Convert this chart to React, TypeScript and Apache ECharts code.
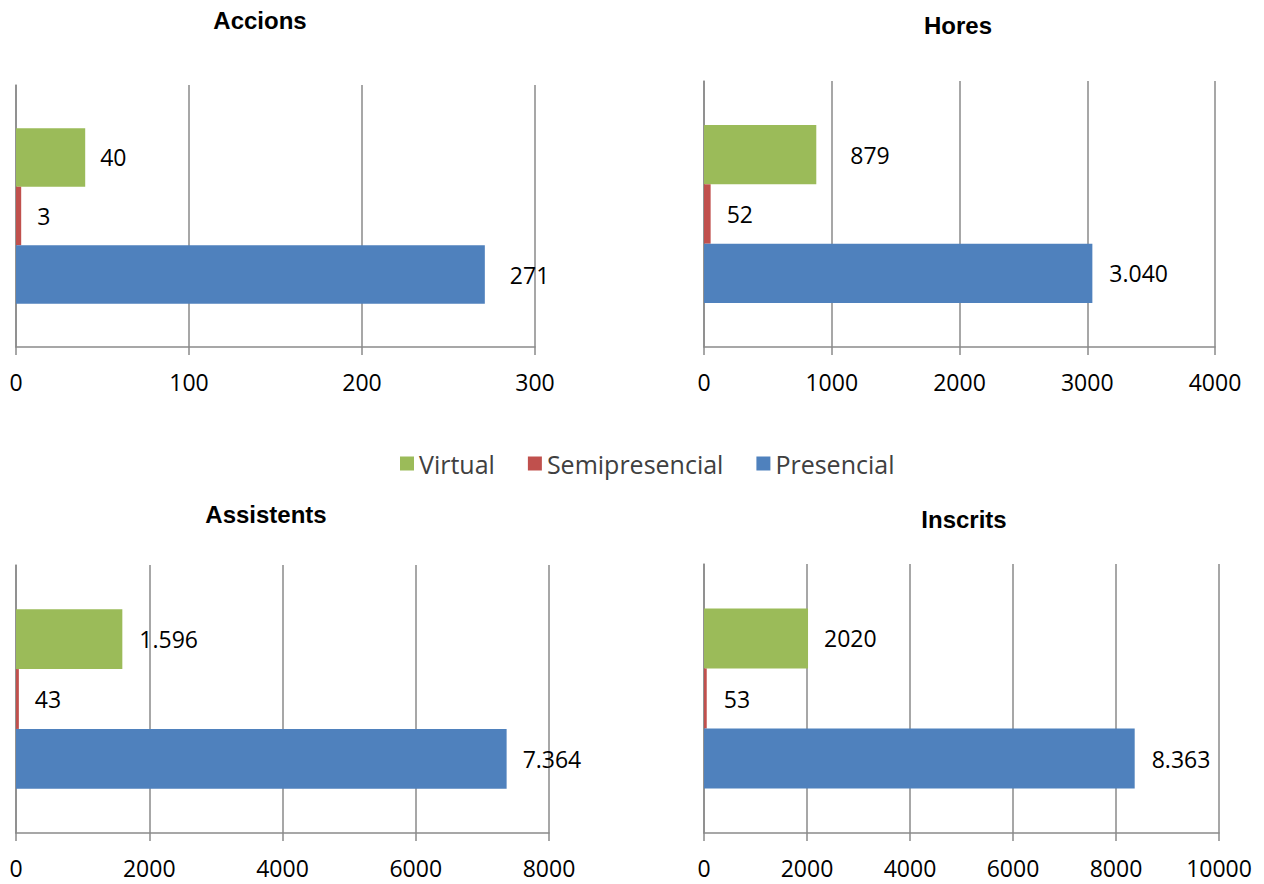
import React, { useEffect, useRef } from "react";
import * as echarts from "echarts";

// ---- data ----
const panels = ["Accions", "Hores", "Assistents", "Inscrits"];
const seriesNames = ["Virtual", "Semipresencial", "Presencial"];
const legendOrder = ["Virtual", "Semipresencial", "Presencial"];
const virtual = [40, 879, 1596, 2020];
const semipresencial = [3, 52, 43, 53];
const presencial = [271, 3040, 7364, 8363];
const virtualLabels = ["40", "879", "1.596", "2020"];
const semipresencialLabels = ["3", "52", "43", "53"];
const presencialLabels = ["271", "3.040", "7.364", "8.363"];
const axisMax = [300, 4000, 8000, 10000];
const axisInterval = [100, 1000, 2000, 2000];

// ---- layout / style ----
const gridBoxes = [
  { left: 16, top: 85, width: 519, height: 262 },
  { left: 704, top: 81, width: 511, height: 266 },
  { left: 16, top: 565, width: 533, height: 268 },
  { left: 704, top: 564, width: 515, height: 269 },
];
const titlePos = [
  { x: 260, y: 20 },
  { x: 958, y: 25 },
  { x: 266, y: 514 },
  { x: 964, y: 519 },
];
const colors: Record<string, string> = {
  Presencial: "#4F81BD",
  Semipresencial: "#C0504D",
  Virtual: "#9BBB59",
};
// label distance overrides [panel][series: Virtual, Semipresencial, Presencial]
const labelGaps = [
  [15, 16, 25],
  [34, 16, 17],
  [17, 16, 16],
  [16, 17, 17],
];
const axisGrey = "#8a8a8a";
const numFont = "'Open Sans', 'Noto Sans', sans-serif";

export default function App() {
  const ref = useRef<HTMLDivElement>(null);
  useEffect(() => {
    if (!ref.current) return;
    const chart = echarts.init(ref.current, undefined, { renderer: "svg" });
    const values = [virtual, semipresencial, presencial];
    const labels = [virtualLabels, semipresencialLabels, presencialLabels];

    const grid = gridBoxes.map((g) => ({ ...g, containLabel: false }));
    const xAxis = panels.map((_, i) => ({
      type: "value",
      gridIndex: i,
      min: 0,
      max: axisMax[i],
      interval: axisInterval[i],
      axisLine: { show: true, lineStyle: { color: axisGrey, width: 1.5 } },
      axisTick: { show: true, length: 8, lineStyle: { color: axisGrey, width: 1.5 } },
      splitLine: { show: true, lineStyle: { color: axisGrey, width: 1.5 } },
      axisLabel: {
        color: "#000",
        fontFamily: numFont,
        fontSize: 23,
        margin: 23,
        formatter: (v: number) => String(v),
      },
    }));
    const yAxis = panels.map((p, i) => ({
      type: "category",
      gridIndex: i,
      data: [p],
      axisLine: { show: true, lineStyle: { color: axisGrey, width: 1.5 } },
      axisTick: { show: false },
      axisLabel: { show: false },
      splitLine: { show: false },
    }));
    const series: any[] = [];
    panels.forEach((_, i) => {
      seriesNames.forEach((name, s) => {
        series.push({
          type: "bar",
          name,
          xAxisIndex: i,
          yAxisIndex: i,
          data: [values[s][i]],
          barGap: "0%",
          barCategoryGap: "33%",
          itemStyle: { color: colors[name] },
          label: {
            show: true,
            position: "right",
            distance: labelGaps[i][s],
            formatter: () => labels[s][i],
            color: "#000",
            fontFamily: numFont,
            fontSize: 23,
          },
        });
      });
    });

    chart.setOption({
      animation: false,
      backgroundColor: "#ffffff",
      grid,
      xAxis,
      yAxis,
      series,
      legend: {
        data: legendOrder,
        left: 395,
        top: 446,
        icon: "rect",
        itemWidth: 14,
        itemHeight: 14,
        itemGap: 33,
        textStyle: {
          color: "#404040",
          fontFamily: numFont,
          fontSize: 25,
        },
      },
      graphic: panels.map((p, i) => ({
        type: "text",
        x: titlePos[i].x,
        y: titlePos[i].y,
        style: {
          text: p,
          align: "center",
          verticalAlign: "middle",
          fill: "#000",
          font: "bold 24px 'Liberation Sans', Arial, sans-serif",
        },
      })),
    });
    return () => chart.dispose();
  }, []);
  return (
    <div
      ref={ref}
      style={{ position: "fixed", left: 0, top: 0, width: 1264, height: 884, background: "#fff" }}
    />
  );
}
